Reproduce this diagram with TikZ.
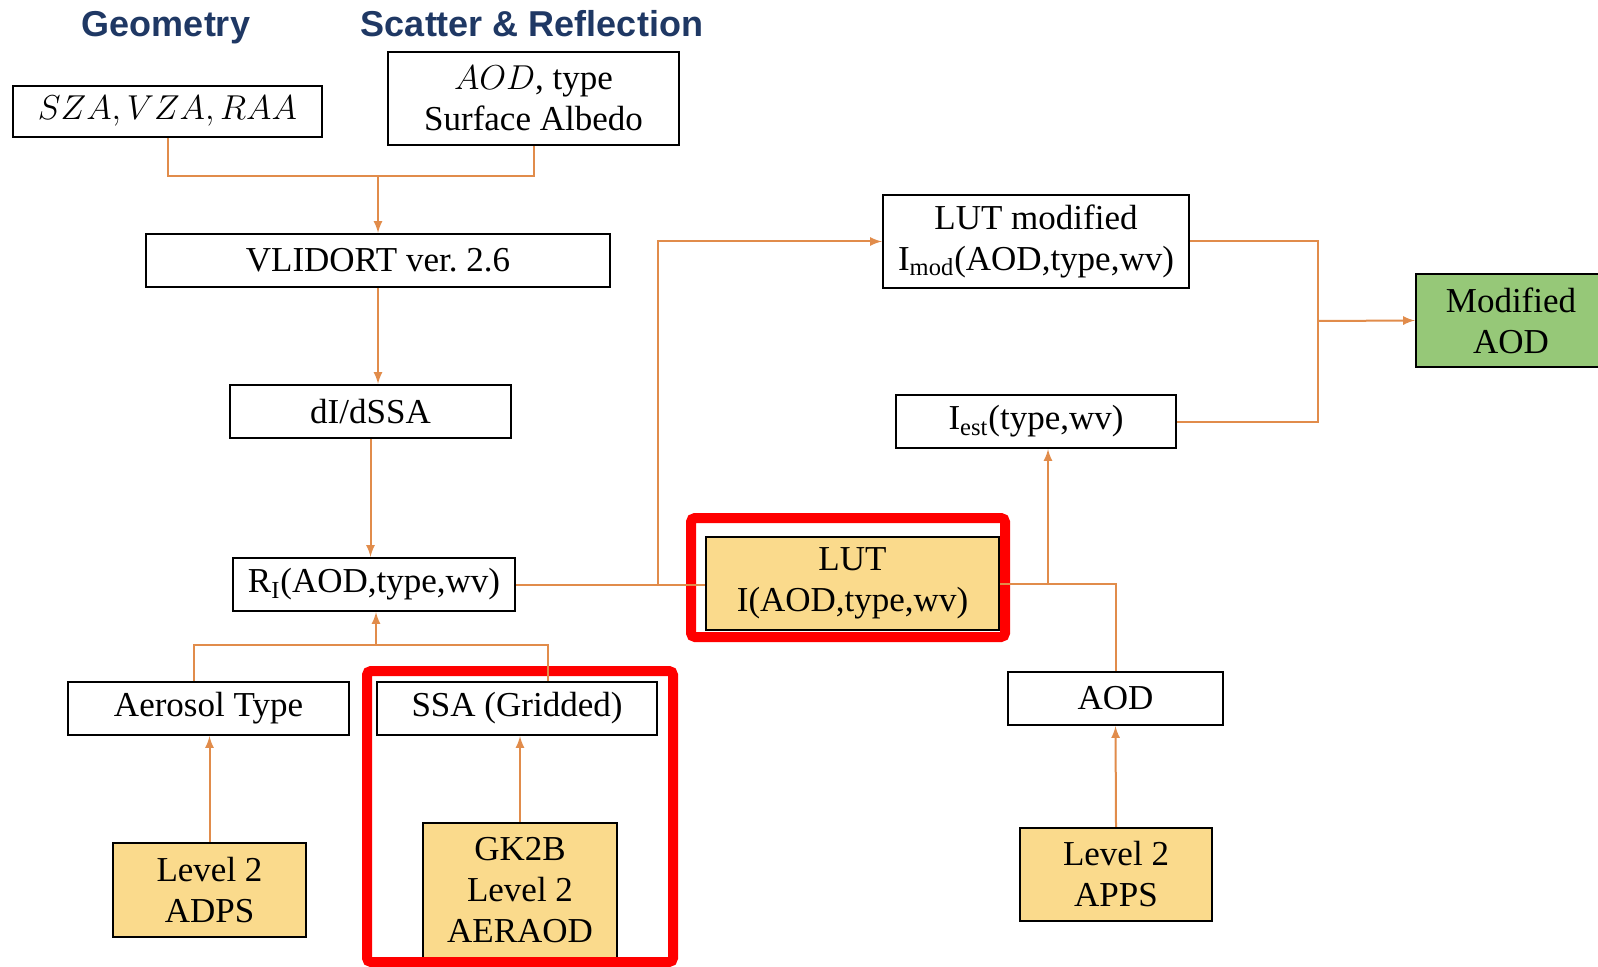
\documentclass[tikz,border=0pt]{standalone}
\usepackage{fontspec}
\setmainfont{Liberation Serif}
\newfontfamily\headfont{Liberation Sans}
\usepackage{tikz}
\usetikzlibrary{arrows}

\definecolor{linkorange}{RGB}{225,140,75}
\definecolor{boxyellow}{RGB}{250,218,140}
\definecolor{boxgreen}{RGB}{150,200,120}
\definecolor{headblue}{RGB}{31,56,100}

\tikzset{
  box/.style={draw=black, line width=1.2pt, fill=white, align=center, inner sep=0pt,
    font=\fontsize{17.5}{20.5}\selectfont},
  ybox/.style={box, fill=boxyellow},
  gbox/.style={box, fill=boxgreen},
  head/.style={anchor=base, text=headblue, font=\headfont\bfseries\fontsize{18}{20}\selectfont},
  link/.style={draw=linkorange, line width=1pt},
  arr/.style={link, ->, >=latex},
  hilite/.style={draw=red, line width=5pt, rounded corners=2pt}
}

\begin{document}
\begin{tikzpicture}[x=0.5pt, y=-0.5pt]
  \useasboundingbox (0,0) rectangle (1598,967);
  \clip (0,0) rectangle (1598,967);

  % Headers
  \node[head] (geo) at (166,37) {Geometry};
  \node[head] (scat) at (532,37) {Scatter \& Reflection};

  % Inputs and model
  \node[box, minimum width=154.5pt, minimum height=25.5pt] (sza) at (167.5,111.5) {$SZA,VZA,RAA$};
  \node[box, minimum width=145.5pt, minimum height=46.5pt] (aodin) at (533.5,98.5) {$AOD$, type\\Surface Albedo};
  \node[box, minimum width=232pt, minimum height=26.5pt] (vlidort) at (378,260.5) {VLIDORT ver.\ 2.6};
  \node[box, minimum width=140.5pt, minimum height=26.5pt] (dssa) at (370.5,411.5) {dI/dSSA};
  \node[box, minimum width=141pt, minimum height=26.5pt] (rtoa) at (374,584.5) {R\textsubscript{I}(AOD,type,wv)};

  % Look-up tables
  \node[ybox, minimum width=146.5pt, minimum height=46.5pt] (lut) at (852.5,583.5) {LUT\\I(AOD,type,wv)};
  \node[box, minimum width=153pt, minimum height=46.5pt] (lutmod) at (1036,241.5) {LUT modified\\I\textsubscript{mod}(AOD,type,wv)};
  \node[box, minimum width=140pt, minimum height=26.5pt] (iest) at (1036,421.5) {I\textsubscript{est}(type,wv)};
  \node[gbox, minimum width=95pt, minimum height=46.5pt] (modaod) at (1511,320.5) {Modified\\AOD};

  % Lower inputs
  \node[box, minimum width=140.5pt, minimum height=26.5pt] (aerotype) at (208.5,708.5) {Aerosol Type};
  \node[box, minimum width=140pt, minimum height=26.5pt] (ssa) at (517,708.5) {SSA (Gridded)};
  \node[ybox, minimum width=96.5pt, minimum height=47pt] (adps) at (209.5,890) {Level 2\\ADPS};
  \node[ybox, minimum width=97pt, minimum height=67.5pt] (gk2b) at (520,890.5) {GK2B\\Level 2\\AERAOD};
  \node[box, minimum width=107.5pt, minimum height=26.5pt] (aod) at (1115.5,698.5) {AOD};
  \node[ybox, minimum width=96pt, minimum height=46.5pt] (apps) at (1116,874.5) {Level 2\\APPS};

  % Red highlights
  \draw[hilite] (691,518) rectangle (1005,637);
  \draw[hilite] (367,671) rectangle (673,962);

  % Junctions
  \coordinate (jtop) at (378,176);
  \coordinate (jlut) at (658,584.5);
  \coordinate (jaod) at (1048,583.5);
  \coordinate (jmod) at (1318,321);
  \coordinate (jbot) at (376,645);

  % Connectors
  \draw[link] (sza.south) |- (jtop) -| (aodin.south);
  \draw[arr] (jtop) -- (jtop |- vlidort.north);
  \draw[arr] (vlidort.south) -- (vlidort.south |- dssa.north);
  \draw[arr] (dssa.south) -- (dssa.south |- rtoa.north);
  \draw[link] (rtoa.east) -- (rtoa.east -| lut.west);
  \draw[arr] (jlut) |- (lutmod.west);
  \draw[link] (lut.east) -| (aod.north);
  \draw[arr] (jaod) -- (jaod |- iest.south);
  \draw[link] (lutmod.east) -| (jmod) |- (iest.east);
  \draw[arr] (jmod) -- (modaod.west);
  \draw[link] ([xshift=-7.5pt]aerotype.north) |- (jbot) -| ([xshift=15.5pt]ssa.north);
  \draw[arr] (jbot) -- (jbot |- rtoa.south);
  \draw[arr] (adps.north) -- (adps.north |- aerotype.south);
  \draw[arr] (gk2b.north) -- (gk2b.north |- ssa.south);
  \draw[arr] (apps.north) -- (aod.south);

\end{tikzpicture}
\end{document}
